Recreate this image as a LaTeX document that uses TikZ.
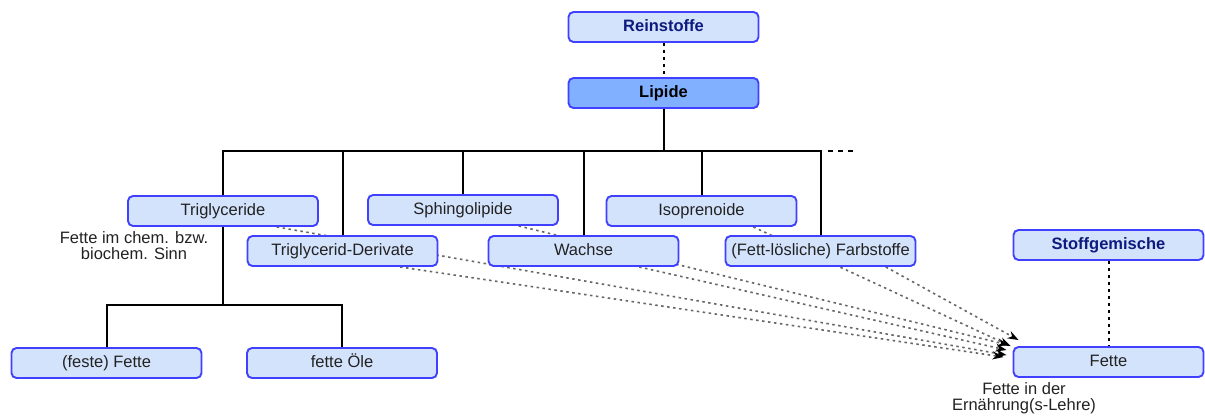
\documentclass[tikz,border=0pt]{standalone}
\usepackage{fontspec}
\setmainfont{Liberation Sans}
\usetikzlibrary{arrows.meta,calc,backgrounds}
\definecolor{boxfill}{HTML}{D4E3FC}
\definecolor{boxline}{HTML}{4040FF}
\definecolor{lipfill}{HTML}{80B0FF}
\definecolor{navy}{HTML}{0D1A80}
\definecolor{txt}{HTML}{222222}
\definecolor{dotgray}{HTML}{666666}
\tikzset{
  box/.style={draw=boxline, line width=1.9pt, fill=boxfill, rounded corners=5pt,
    minimum width=190pt, minimum height=30pt, inner sep=0pt, text=txt,
    font=\fontsize{16.5}{16}\selectfont, text height=12pt, text depth=3.5pt},
  headbox/.style={box, text=navy, font=\fontsize{16.5}{16}\selectfont\bfseries},
  lipbox/.style={box, fill=lipfill, text=black, font=\fontsize{16.5}{16}\selectfont\bfseries},
  tree/.style={draw=black, line width=2pt},
  blackdots/.style={draw=black, line width=2pt, dash pattern=on 3pt off 4pt},
  grayarrow/.style={draw=dotgray, line width=1.6pt, dash pattern=on 2.5pt off 3.5pt,
    -{Stealth[black,length=11pt,width=8pt]}},
  note/.style={text=txt, font=\fontsize{16.5}{16}\selectfont, align=center, inner sep=0pt},
}
\begin{document}
\begin{tikzpicture}[x=1pt,y=-1pt]
\useasboundingbox (0,0) rectangle (1205,419);
% nodes
\node[headbox] (rein) at (663.5,27) {Reinstoffe};
\node[lipbox] (lip) at (663.5,93) {Lipide};
\node[box] (tri) at (223,211) {Triglyceride};
\node[box] (sph) at (463,210) {Sphingolipide};
\node[box] (iso) at (701.5,211) {Isoprenoide};
\node[box] (der) at (342.5,251) {Triglycerid-Derivate};
\node[box] (wac) at (583.5,251) {Wachse};
\node[box] (far) at (820.5,251) {(Fett-lösliche) Farbstoffe};
\node[headbox] (stoff) at (1108.5,245) {Stoffgemische};
\node[box] (fette) at (1108.5,362) {Fette};
\node[box] (fest) at (106.5,363) {(feste) Fette};
\node[box] (oele) at (342,363) {fette Öle};
\node[note] (n1) at (134,246) {Fette im chem. bzw.\\biochem. Sinn};
\node[note] (n2) at (1024,398) {Fette in der\\Ernährung(s-Lehre)};
% helper coordinates
\coordinate (bar) at (0,151);
\coordinate (sub) at (0,305);
\coordinate (barext) at (828,151);
\coordinate (barend) at (855,151);
% tree
\draw[blackdots] (rein.south) -- (lip.north);
\draw[tree] (lip.south) -- (lip.south |- bar);
\draw[tree] (tri.north) -- (tri.north |- bar) -- (far.north |- bar) -- (far.north);
\draw[tree] (der.north) -- (der.north |- bar);
\draw[tree] (sph.north) -- (sph.north |- bar);
\draw[tree] (wac.north) -- (wac.north |- bar);
\draw[tree] (iso.north) -- (iso.north |- bar);
\draw[blackdots, dash pattern=on 5pt off 5pt] (barext) -- (barend);
\draw[tree] (tri.south) -- (tri.south |- sub);
\draw[tree] (fest.north) -- (fest.north |- sub) -- (oele.north |- sub) -- (oele.north);
\draw[blackdots] (stoff.south) -- (fette.north);
% dotted arrows behind the boxes
\begin{pgfonlayer}{background}
\draw[grayarrow] ($(tri.south west)!0.78!(tri.south east)$) -- ($(fette.north west)+(-6,9)$);
\draw[grayarrow] ($(der.south west)!0.80!(der.south east)$) -- ($(fette.north west)+(-9,11)$);
\draw[grayarrow] ($(sph.south west)!0.79!(sph.south east)$) -- ($(fette.north west)+(-4,-1)$);
\draw[grayarrow] ($(wac.south west)!0.79!(wac.south east)$) -- ($(fette.north west)+(-6,4)$);
\draw[grayarrow] ($(iso.south west)!0.77!(iso.south east)$) -- ($(fette.north west)+(-2,0)$);
\draw[grayarrow] ($(far.south west)!0.84!(far.south east)$) -- ($(fette.north west)+(6,-6)$);
\end{pgfonlayer}
\end{tikzpicture}
\end{document}
